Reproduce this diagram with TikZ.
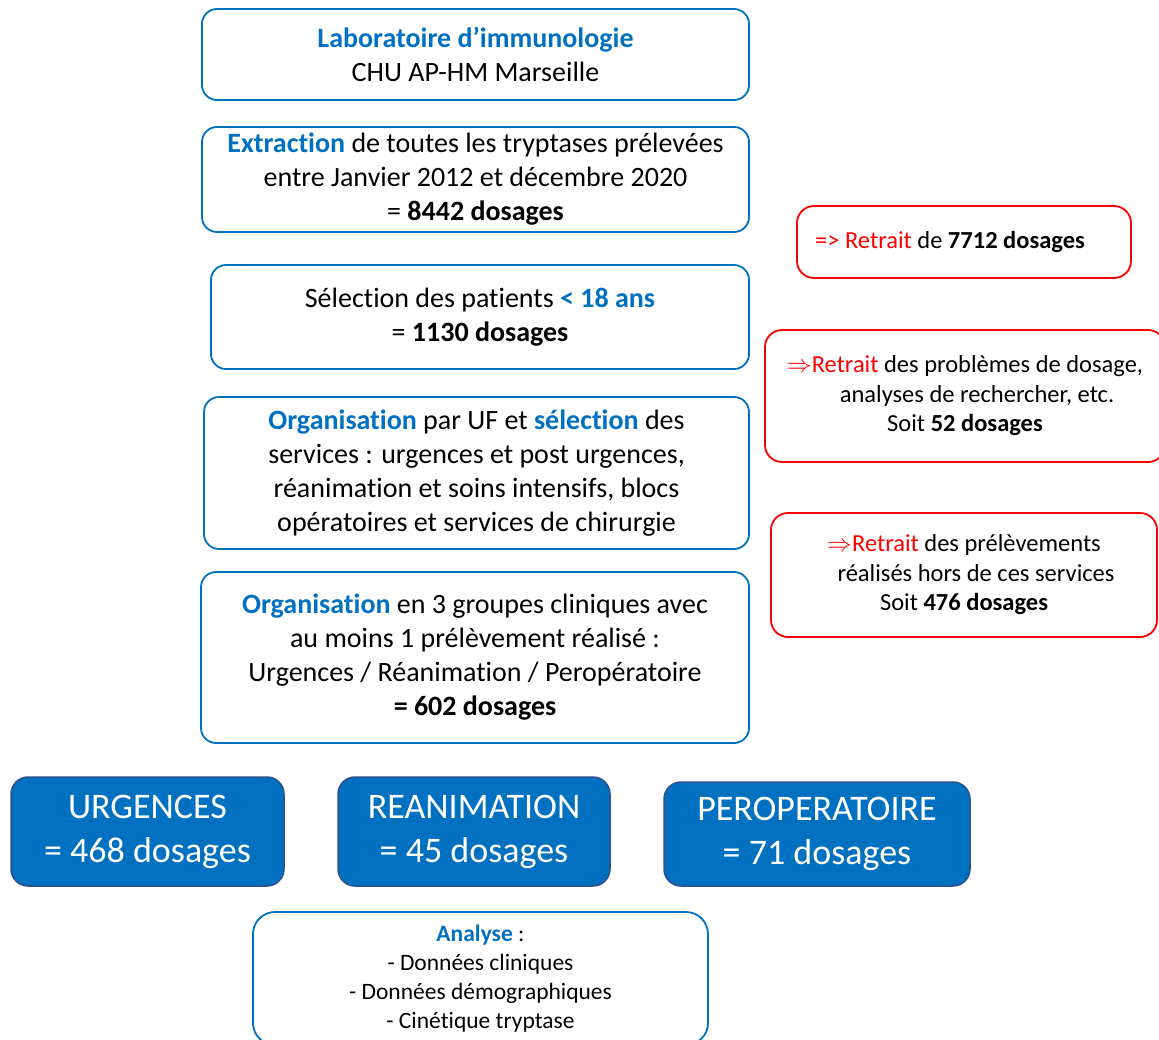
\documentclass[tikz,border=0pt]{standalone}
\usepackage{fontspec}
\setmainfont{Carlito}[RawFeature={-liga;-clig;-dlig;-calt}]
\usepackage{tikz}
\usetikzlibrary{calc}
\definecolor{apblue}{HTML}{0070C0}
\definecolor{apred}{HTML}{FF0000}
\definecolor{apedge}{HTML}{2F528F}
\newcommand{\bluebf}[1]{\textcolor{apblue}{\textbf{#1}}}
\newcommand{\redtxt}[1]{\textcolor{apred}{#1}}
\begin{document}
\begin{tikzpicture}[x=1pt,y=-1pt,
	mainbox/.style={draw=apblue, line width=1.8pt, rounded corners=15pt, align=center, inner sep=0pt,
		font=\fontsize{28}{34}\selectfont},
	retbox/.style={draw=apred, line width=1.8pt, rounded corners=17pt, align=center, inner sep=0pt,
		font=\fontsize{24.5}{29.5}\selectfont},
	grpbox/.style={draw=apedge, fill=apblue, line width=1.5pt, rounded corners=17pt, align=center, inner sep=0pt,
		text=white, font=\fontsize{36}{44}\selectfont},
	anabox/.style={draw=apblue, line width=1.8pt, rounded corners=22pt, align=center, inner sep=0pt,
		font=\fontsize{23.5}{29}\selectfont}]

	\useasboundingbox (0,0) rectangle (1159,1039);

	% colonne principale
	\node[mainbox, minimum width=547pt, minimum height=91pt] (lab) at (475.5,54.5)
		{\bluebf{Laboratoire d’immunologie}\\CHU AP-HM Marseille};
	\node[mainbox, minimum width=547pt, minimum height=105pt] (extr) at (475.5,179.5)
		{\bluebf{Extraction} de toutes les tryptases prélevées\\entre Janvier 2012 et décembre 2020\\= \textbf{8442 dosages}};
	\node[mainbox, minimum width=538pt, minimum height=104pt] (sel) at (480,317)
		{Sélection des patients \bluebf{< 18 ans}\\= \textbf{1130 dosages}};
	\node[mainbox, minimum width=545pt, minimum height=152pt] (orga) at (476.5,473)
		{\bluebf{Organisation} par UF et \bluebf{sélection} des\\services : urgences et post urgences,\\réanimation et soins intensifs, blocs\\opératoires et services de chirurgie};
	\node[mainbox, minimum width=548pt, minimum height=171pt] (grp) at (475,657.5)
		{\bluebf{Organisation} en 3 groupes cliniques avec\\au moins 1 prélèvement réalisé :\\Urgences / Réanimation / Peropératoire\\\textbf{= 602 dosages}};

	% retraits
	\node[retbox, minimum width=334pt, minimum height=72pt] (ret1) at (964,242)
		{\redtxt{=> Retrait} de \textbf{7712 dosages}\hspace*{28pt}};
	\node[retbox, minimum width=400pt, minimum height=132pt] (ret2) at (965,396)
		{\redtxt{$\Rightarrow$Retrait} des problèmes de dosage,\\\hspace*{24pt}analyses de rechercher, etc.\\Soit \textbf{52 dosages}};
	\node[retbox, minimum width=386pt, minimum height=124pt] (ret3) at (964,575)
		{\redtxt{$\Rightarrow$Retrait} des prélèvements\\\hspace*{24pt}réalisés hors de ces services\\Soit \textbf{476 dosages}};

	% groupes cliniques
	\node[grpbox, minimum width=273pt, minimum height=109pt] (urg) at (147.5,831.5)
		{URGENCES\\= 468 dosages};
	\node[grpbox, minimum width=272pt, minimum height=109pt] (rea) at (474,831.5)
		{REANIMATION\\= 45 dosages};
	\node[grpbox, minimum width=306pt, minimum height=104pt] (per) at (817,834)
		{PEROPERATOIRE\\= 71 dosages};

	% analyse
	\node[anabox, minimum width=455pt, minimum height=133pt] (ana) at (480.5,978.5)
		{\bluebf{Analyse} :\\- Données cliniques\\- Données démographiques\\- Cinétique tryptase};

\end{tikzpicture}
\end{document}
